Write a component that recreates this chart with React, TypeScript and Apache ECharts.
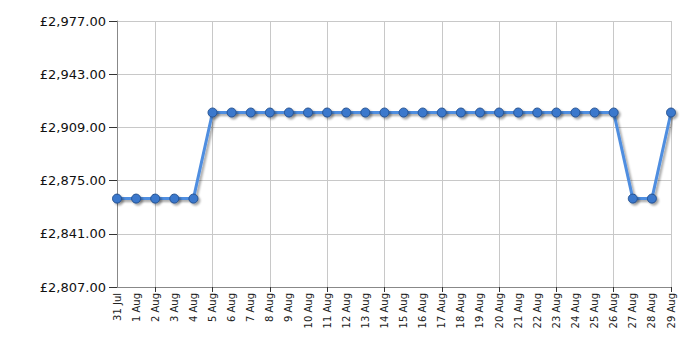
import React, { useEffect, useRef } from "react";
import * as echarts from "echarts";

const categories = [
  "31 Jul", "1 Aug", "2 Aug", "3 Aug", "4 Aug", "5 Aug", "6 Aug", "7 Aug", "8 Aug", "9 Aug",
  "10 Aug", "11 Aug", "12 Aug", "13 Aug", "14 Aug", "15 Aug", "16 Aug", "17 Aug", "18 Aug", "19 Aug",
  "20 Aug", "21 Aug", "22 Aug", "23 Aug", "24 Aug", "25 Aug", "26 Aug", "27 Aug", "28 Aug", "29 Aug",
];
const prices = [
  2863.5, 2863.5, 2863.5, 2863.5, 2863.5, 2918.5, 2918.5, 2918.5, 2918.5, 2918.5,
  2918.5, 2918.5, 2918.5, 2918.5, 2918.5, 2918.5, 2918.5, 2918.5, 2918.5, 2918.5,
  2918.5, 2918.5, 2918.5, 2918.5, 2918.5, 2918.5, 2918.5, 2863.5, 2863.5, 2918.5,
];
const yMin = 2807;
const yMax = 2977;
const yStep = 34;

const fmt = (v: number) =>
  "£" + v.toLocaleString("en-GB", { minimumFractionDigits: 2, maximumFractionDigits: 2 });

export default function App() {
  const ref = useRef<HTMLDivElement>(null);
  useEffect(() => {
    if (!ref.current) return;
    const chart = echarts.init(ref.current, undefined, { renderer: "svg" });
    const tickFn = (i: number) => i >= 2 && (i - 2) % 3 === 0;
    chart.setOption({
      animation: false,
      backgroundColor: "#ffffff",
      grid: { left: 117, right: 29, top: 21, bottom: 63 },
      xAxis: {
        type: "category",
        data: categories,
        boundaryGap: false,
        axisLine: { lineStyle: { color: "#888888", width: 1 } },
        axisTick: { show: true, interval: tickFn, length: 5, lineStyle: { color: "#333333" } },
        splitLine: { show: true, interval: tickFn, lineStyle: { color: "#c8c8c8", width: 1 } },
        axisLabel: {
          interval: 0,
          rotate: 90,
          margin: 6,
          fontFamily: "DejaVu Sans",
          fontSize: 10,
          color: "#222222",
        },
      },
      yAxis: {
        type: "value",
        min: yMin,
        max: yMax,
        interval: yStep,
        axisLine: { show: true, lineStyle: { color: "#888888", width: 1 } },
        axisTick: { show: true, length: 8, lineStyle: { color: "#333333" } },
        splitLine: { show: true, lineStyle: { color: "#c8c8c8", width: 1 } },
        axisLabel: {
          margin: 11,
          fontFamily: "DejaVu Sans",
          fontSize: 13,
          color: "#111111",
          formatter: (v: number) => fmt(v),
        },
      },
      series: [
        {
          type: "line",
          data: prices,
          symbol: "circle",
          symbolSize: 9,
          lineStyle: {
            color: "#4f8ee0",
            width: 3,
            shadowColor: "rgba(0,0,0,0.35)",
            shadowBlur: 2,
            shadowOffsetX: 2,
            shadowOffsetY: 2,
          },
          itemStyle: {
            color: "#3a78cc",
            borderColor: "#24508f",
            borderWidth: 1,
            shadowColor: "rgba(0,0,0,0.35)",
            shadowBlur: 2,
            shadowOffsetX: 2,
            shadowOffsetY: 2,
          },
        },
      ],
    });
    return () => chart.dispose();
  }, []);
  return <div ref={ref} style={{ width: 700, height: 350, position: "absolute", left: 0, top: 0 }} />;
}
